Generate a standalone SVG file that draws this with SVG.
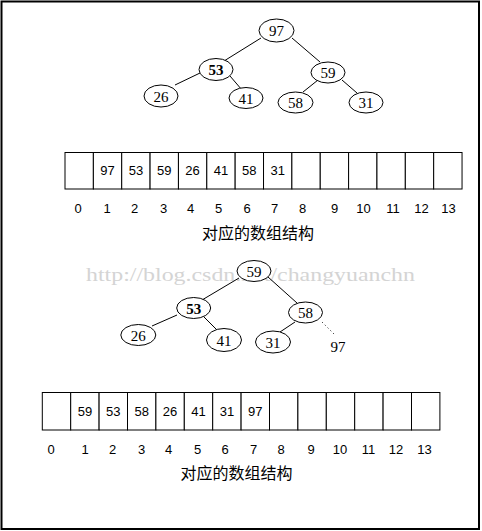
<svg xmlns="http://www.w3.org/2000/svg" width="482" height="531" viewBox="0 0 482 531">
<style>
.nd{fill:#fff;stroke:#000;stroke-width:1}
.nt{font-family:"Liberation Serif",serif;font-size:15px;text-anchor:middle;fill:#000}
.b{font-weight:bold}
.ed{stroke:#000;stroke-width:1;fill:none}
.cell{fill:#fff;stroke:#000;stroke-width:1}
.ct{font-family:"Liberation Sans",sans-serif;font-size:13px;text-anchor:middle;fill:#000}
.cap{font-family:"Noto Sans CJK SC",sans-serif;font-size:16px;text-anchor:middle;fill:#000}
.wm{font-family:"Liberation Serif",serif;font-size:19px;fill:#d4d4d4}
</style>
<rect x="0" y="0" width="482" height="531" fill="#fff"/>
<rect x="1.5" y="1.5" width="477.5" height="527.5" fill="none" stroke="#000" stroke-width="2"/>

<text class="wm" x="86" y="281" textLength="329" lengthAdjust="spacingAndGlyphs">http://blog.csdn.net/changyuanchn</text>

<g id="connectors">
<line class="ed" x1="261" y1="38" x2="224" y2="61"/>
<line class="ed" x1="292" y1="38" x2="320" y2="62"/>
<line class="ed" x1="200" y1="73" x2="175" y2="85"/>
<line class="ed" x1="230" y1="76" x2="242" y2="90"/>
<line class="ed" x1="318" y1="80" x2="303" y2="92"/>
<line class="ed" x1="342" y1="80" x2="357" y2="93"/>
<line class="ed" x1="239" y1="278" x2="202" y2="300"/>
<line class="ed" x1="268" y1="277" x2="297" y2="303"/>
<line class="ed" x1="177" y1="315" x2="152" y2="326"/>
<line class="ed" x1="204" y1="317" x2="217" y2="330"/>
<line class="ed" x1="295" y1="322" x2="280" y2="332"/>
<line class="ed" x1="322" y1="322" x2="335" y2="335" stroke-dasharray="1,3"/>
</g>

<g id="t1-97"><ellipse class="nd" cx="276.5" cy="30.5" rx="17.5" ry="11.5"/><text class="nt" x="276.5" y="36">97</text></g>
<g id="t1-53"><ellipse class="nd" cx="216" cy="69.5" rx="17" ry="11"/><text class="nt b" x="216" y="75">53</text></g>
<g id="t1-59"><ellipse class="nd" cx="328" cy="72.5" rx="17" ry="10.5"/><text class="nt" x="328" y="78">59</text></g>
<g id="t1-26"><ellipse class="nd" cx="161" cy="96" rx="17" ry="11"/><text class="nt" x="161" y="101.5">26</text></g>
<g id="t1-41"><ellipse class="nd" cx="246" cy="98" rx="17" ry="10.5"/><text class="nt" x="246" y="103.5">41</text></g>
<g id="t1-58"><ellipse class="nd" cx="295.5" cy="102.5" rx="17.5" ry="10.5"/><text class="nt" x="295.5" y="108">58</text></g>
<g id="t1-31"><ellipse class="nd" cx="366" cy="102.5" rx="17" ry="10.5"/><text class="nt" x="366" y="108">31</text></g>

<g id="array1">
<rect class="cell" x="65" y="152.5" width="28.36" height="36.5"/>
<rect class="cell" x="93.36" y="152.5" width="28.36" height="36.5"/>
<rect class="cell" x="121.72" y="152.5" width="28.36" height="36.5"/>
<rect class="cell" x="150.08" y="152.5" width="28.36" height="36.5"/>
<rect class="cell" x="178.44" y="152.5" width="28.36" height="36.5"/>
<rect class="cell" x="206.8" y="152.5" width="28.36" height="36.5"/>
<rect class="cell" x="235.16" y="152.5" width="28.36" height="36.5"/>
<rect class="cell" x="263.52" y="152.5" width="28.36" height="36.5"/>
<rect class="cell" x="291.88" y="152.5" width="28.36" height="36.5"/>
<rect class="cell" x="320.24" y="152.5" width="28.36" height="36.5"/>
<rect class="cell" x="348.6" y="152.5" width="28.36" height="36.5"/>
<rect class="cell" x="376.96" y="152.5" width="28.36" height="36.5"/>
<rect class="cell" x="405.32" y="152.5" width="28.36" height="36.5"/>
<rect class="cell" x="433.68" y="152.5" width="28.36" height="36.5"/>
<text class="ct" x="107.5" y="175">97</text>
<text class="ct" x="135.9" y="175">53</text>
<text class="ct" x="164.3" y="175">59</text>
<text class="ct" x="192.6" y="175">26</text>
<text class="ct" x="221" y="175">41</text>
<text class="ct" x="249.3" y="175">58</text>
<text class="ct" x="277.7" y="175">31</text>
<text class="ct" x="78" y="212.5">0</text>
<text class="ct" x="107" y="212.5">1</text>
<text class="ct" x="134.5" y="212.5">2</text>
<text class="ct" x="163.5" y="212.5">3</text>
<text class="ct" x="190.5" y="212.5">4</text>
<text class="ct" x="218.5" y="212.5">5</text>
<text class="ct" x="247" y="212.5">6</text>
<text class="ct" x="274.5" y="212.5">7</text>
<text class="ct" x="302.5" y="212.5">8</text>
<text class="ct" x="334.5" y="212.5">9</text>
<text class="ct" x="363.5" y="212.5">10</text>
<text class="ct" x="393" y="212.5">11</text>
<text class="ct" x="421.5" y="212.5">12</text>
<text class="ct" x="448.5" y="212.5">13</text>
<text class="cap" x="258" y="239">对应的数组结构</text>
</g>

<g id="t2-59"><ellipse class="nd" cx="254" cy="271" rx="17" ry="10.5"/><text class="nt" x="254" y="276.5">59</text></g>
<g id="t2-53"><ellipse class="nd" cx="193.7" cy="308" rx="17" ry="10.5"/><text class="nt b" x="193.7" y="313.5">53</text></g>
<g id="t2-58"><ellipse class="nd" cx="305.5" cy="312.5" rx="17" ry="10.5"/><text class="nt" x="305.5" y="318">58</text></g>
<g id="t2-26"><ellipse class="nd" cx="138.3" cy="335" rx="17.5" ry="10.5"/><text class="nt" x="138.3" y="340.5">26</text></g>
<g id="t2-41"><ellipse class="nd" cx="224" cy="340" rx="17.5" ry="11.5"/><text class="nt" x="224" y="345.5">41</text></g>
<g id="t2-31"><ellipse class="nd" cx="273" cy="342" rx="17.5" ry="11"/><text class="nt" x="273" y="347.5">31</text></g>
<g id="t2-97"><text class="nt" x="338" y="352">97</text></g>

<g id="array2">
<rect class="cell" x="42.3" y="392.5" width="28.4" height="37.5"/>
<rect class="cell" x="70.7" y="392.5" width="28.4" height="37.5"/>
<rect class="cell" x="99.1" y="392.5" width="28.4" height="37.5"/>
<rect class="cell" x="127.5" y="392.5" width="28.4" height="37.5"/>
<rect class="cell" x="155.9" y="392.5" width="28.4" height="37.5"/>
<rect class="cell" x="184.3" y="392.5" width="28.4" height="37.5"/>
<rect class="cell" x="212.7" y="392.5" width="28.4" height="37.5"/>
<rect class="cell" x="241.1" y="392.5" width="28.4" height="37.5"/>
<rect class="cell" x="269.5" y="392.5" width="28.4" height="37.5"/>
<rect class="cell" x="297.9" y="392.5" width="28.4" height="37.5"/>
<rect class="cell" x="326.3" y="392.5" width="28.4" height="37.5"/>
<rect class="cell" x="354.7" y="392.5" width="28.4" height="37.5"/>
<rect class="cell" x="383.1" y="392.5" width="28.4" height="37.5"/>
<rect class="cell" x="411.5" y="392.5" width="28.4" height="37.5"/>
<text class="ct" x="84.9" y="415.5">59</text>
<text class="ct" x="113.3" y="415.5">53</text>
<text class="ct" x="141.7" y="415.5">58</text>
<text class="ct" x="170.1" y="415.5">26</text>
<text class="ct" x="198.5" y="415.5">41</text>
<text class="ct" x="226.9" y="415.5">31</text>
<text class="ct" x="255.3" y="415.5">97</text>
<text class="ct" x="51" y="453.5">0</text>
<text class="ct" x="85" y="453.5">1</text>
<text class="ct" x="112.5" y="453.5">2</text>
<text class="ct" x="141.5" y="453.5">3</text>
<text class="ct" x="168.5" y="453.5">4</text>
<text class="ct" x="197.5" y="453.5">5</text>
<text class="ct" x="225" y="453.5">6</text>
<text class="ct" x="253.5" y="453.5">7</text>
<text class="ct" x="281" y="453.5">8</text>
<text class="ct" x="311" y="453.5">9</text>
<text class="ct" x="340" y="453.5">10</text>
<text class="ct" x="368.5" y="453.5">11</text>
<text class="ct" x="396" y="453.5">12</text>
<text class="ct" x="424.5" y="453.5">13</text>
<text class="cap" x="236.5" y="479">对应的数组结构</text>
</g>
</svg>
